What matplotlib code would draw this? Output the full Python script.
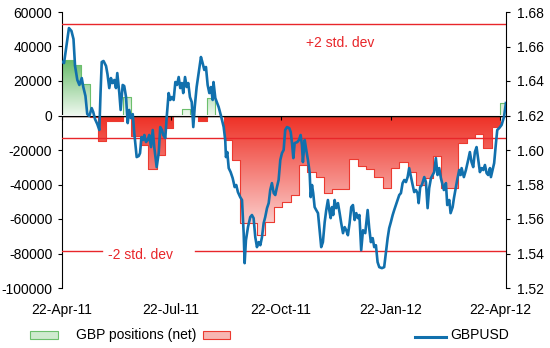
import numpy as np
import pandas as pd
import matplotlib
matplotlib.use('Agg')
import matplotlib.pyplot as plt
import matplotlib.dates as mdates
from matplotlib.colors import LinearSegmentedColormap
from matplotlib.patches import Rectangle
from matplotlib.lines import Line2D
from matplotlib.ticker import FormatStrFormatter

plt.rcParams['font.family'] = ['Liberation Sans', 'DejaVu Sans']
plt.rcParams['axes.unicode_minus'] = False
plt.rcParams['font.size'] = 10

start = pd.Timestamp('2011-04-22')
end = pd.Timestamp('2012-04-27')

# weekly net GBP positions (contracts)
pos_dates = [start] + list(pd.date_range('2011-05-01', periods=52, freq='7D'))
pos = [32000, 29000, 18000, -1000, -15000, -3000, -3000, 11000, -12000, -17000,
       -31000, -23000, -7000, 500, 4000, 300, -3000, 10000, 500, -14000,
       -26000, -62500, -62500, -69000, -61500, -53000, -50000, -46000, -28700, -32600,
       -35800, -45000, -42600, -42600, -25400, -29000, -31000, -35500, -41800, -30600,
       -27000, -32600, -40300, -36000, -23500, -42000, -42000, -16000, -13000, -11000,
       -19000, -6500, 7000]

# mean and std dev of positions
pos_mean = -13000
pos_std = 32900

# GBPUSD, days after 22-Apr-11
fx_days = [0.0, 1.7, 3.8, 5.8, 7.9, 9.6, 10.9, 12.8, 14.5, 16.5, 17.8, 19.6, 21.1, 22.8, 24.8,
           26.1, 27.6, 29.5, 31.2, 32.2, 33.2, 34.7, 36.8, 38.0, 39.5, 40.9, 42.2, 43.7, 45.1,
           46.2, 47.9, 49.0, 50.7, 52.0, 53.5, 54.9, 56.2, 57.6, 59.1, 60.4, 62.4, 64.1, 65.2,
           66.4, 67.7, 68.8, 70.2, 71.6, 72.9, 74.4, 75.8, 77.1, 79.1, 80.8, 82.1, 83.5, 84.6,
           86.3, 87.5, 89.1, 90.5, 91.9, 93.3, 94.7, 96.1, 97.5, 98.8, 100.2, 101.3, 102.8,
           104.2, 105.5, 106.9, 108.4, 109.7, 110.9, 112.5, 114.2, 116.1, 117.5, 118.9, 120.3,
           121.7, 123.1, 124.5, 125.9, 126.6, 128.1, 130.9, 133.1, 135.1, 136.4, 137.0, 138.1,
           139.3, 140.9, 142.6, 144.3, 145.6, 147.0, 148.9, 150.4, 151.8, 152.6, 153.7, 155.4,
           157.3, 158.7, 160.1, 161.5, 162.9, 164.3, 165.7, 167.1, 168.5, 169.8, 171.3, 172.7,
           174.0, 175.4, 176.9, 178.2, 179.6, 181.0, 182.4, 183.8, 185.2, 186.5, 188.0, 189.9,
           191.1, 192.2, 193.3, 194.4, 196.6, 198.0, 199.4, 200.5, 201.3, 202.8, 204.1, 205.5,
           206.9, 207.8, 208.9, 209.9, 211.1, 212.4, 213.9, 215.3, 216.6, 218.0, 219.5, 220.8,
           222.2, 223.3, 224.5, 225.6, 226.6, 227.8, 229.1, 230.6, 232.0, 233.3, 234.8, 236.2,
           237.5, 238.9, 240.3, 241.7, 243.1, 244.5, 245.9, 247.3, 248.5, 250.0, 251.5, 253.4,
           255.4, 256.7, 258.1, 259.6, 260.9, 262.3, 263.7, 265.1, 267.3, 269.2, 270.7, 272.1,
           273.4, 274.8, 276.3, 277.6, 279.0, 280.4, 281.8, 283.2, 284.6, 286.0, 287.4, 288.8,
           290.1, 291.6, 293.0, 294.3, 295.7, 297.1, 298.0, 299.3, 300.7, 302.7, 304.1, 305.5,
           306.8, 308.3, 309.7, 311.0, 312.4, 313.8, 315.2, 316.6, 318.0, 319.1, 320.8, 321.9,
           323.6, 324.7, 326.4, 327.5, 329.1, 330.2, 331.9, 333.1, 333.9, 335.8, 337.5, 339.4,
           340.8, 342.2, 343.6, 345.0, 346.4, 347.8, 349.2, 350.6, 352.0, 353.4, 354.8, 356.1,
           357.6, 358.4, 359.8, 361.1, 362.6, 363.7, 365.3, 367.3, 369.3, 370.9]
fx = [1.6512, 1.6504, 1.6609, 1.6707, 1.6690, 1.6643, 1.6487, 1.6406, 1.6377, 1.6417, 1.6365,
      1.6313, 1.6208, 1.6197, 1.6243, 1.6220, 1.6179, 1.6150, 1.6116, 1.6330, 1.6510, 1.6516,
      1.6487, 1.6440, 1.6359, 1.6417, 1.6388, 1.6406, 1.6359, 1.6446, 1.6330, 1.6232, 1.6377,
      1.6371, 1.6307, 1.6156, 1.6232, 1.6185, 1.6208, 1.6098, 1.5959, 1.5965, 1.5982, 1.6075,
      1.6058, 1.6087, 1.6046, 1.6058, 1.6087, 1.6017, 1.6116, 1.6017, 1.5901, 1.5982, 1.6133,
      1.6116, 1.6087, 1.6069, 1.6191, 1.6330, 1.6290, 1.6307, 1.6290, 1.6394, 1.6377, 1.6423,
      1.6359, 1.6388, 1.6330, 1.6423, 1.6365, 1.6388, 1.6307, 1.6278, 1.6133, 1.6249, 1.6365,
      1.6446, 1.6539, 1.6504, 1.6464, 1.6481, 1.6377, 1.6330, 1.6365, 1.6290, 1.6394, 1.6301,
      1.6249, 1.6191, 1.6133, 1.6058, 1.5959, 1.5988, 1.5895, 1.5872, 1.5837, 1.5785, 1.5797,
      1.5756, 1.5727, 1.5710, 1.5518, 1.5344, 1.5477, 1.5553, 1.5611, 1.5623, 1.5605, 1.5495,
      1.5437, 1.5466, 1.5448, 1.5495, 1.5576, 1.5611, 1.5663, 1.5692, 1.5768, 1.5808, 1.5750,
      1.5739, 1.5785, 1.5826, 1.5942, 1.5982, 1.6000, 1.6116, 1.6133, 1.6127, 1.6104, 1.6040,
      1.5953, 1.6040, 1.6046, 1.6058, 1.6087, 1.6029, 1.5930, 1.6058, 1.6000, 1.5942, 1.5872,
      1.5727, 1.5797, 1.5750, 1.5669, 1.5652, 1.5634, 1.5535, 1.5437, 1.5466, 1.5582, 1.5652,
      1.5710, 1.5652, 1.5605, 1.5669, 1.5623, 1.5710, 1.5663, 1.5692, 1.5634, 1.5576, 1.5518,
      1.5553, 1.5535, 1.5506, 1.5576, 1.5669, 1.5681, 1.5594, 1.5634, 1.5605, 1.5623, 1.5419,
      1.5535, 1.5518, 1.5652, 1.5547, 1.5466, 1.5489, 1.5437, 1.5448, 1.5350, 1.5321, 1.5315,
      1.5321, 1.5408, 1.5489, 1.5547, 1.5582, 1.5623, 1.5652, 1.5681, 1.5710, 1.5739, 1.5750,
      1.5808, 1.5826, 1.5814, 1.5843, 1.5895, 1.5843, 1.5797, 1.5756, 1.5768, 1.5750, 1.5692,
      1.5785, 1.5797, 1.5843, 1.5814, 1.5663, 1.5779, 1.5837, 1.5855, 1.5872, 1.5953, 1.5855,
      1.5895, 1.5837, 1.5797, 1.5768, 1.5808, 1.5681, 1.5710, 1.5634, 1.5669, 1.5721, 1.5785,
      1.5826, 1.5884, 1.5855, 1.5895, 1.5843, 1.5884, 1.5942, 1.5988, 1.5930, 1.5901, 1.5988,
      1.6017, 1.5942, 1.5872, 1.5895, 1.5884, 1.5913, 1.5866, 1.5855, 1.5895, 1.5843, 1.5884,
      1.5924, 1.6040, 1.6116, 1.6127, 1.6145, 1.6191, 1.6272]

tick_dates = pd.to_datetime(['2011-04-22', '2011-07-22', '2011-10-22', '2012-01-22', '2012-04-22'])

RED = '#e8262a'
BLUE = '#1170ad'


def gradient_fill(ax, x, y, c_top, c_bot, y_top, y_bot, edge):
    coll = ax.fill_between(x, y, 0, step='post', facecolor='none', edgecolor=edge,
                           linewidth=0.8, zorder=2)
    path = coll.get_paths()[0]
    cmap = LinearSegmentedColormap.from_list('g', [c_top, c_bot])
    grad = np.linspace(0, 1, 256).reshape(-1, 1)
    im = ax.imshow(grad, cmap=cmap, aspect='auto', origin='upper',
                   extent=[x[0], x[-1], y_bot, y_top], zorder=1, interpolation='bilinear')
    im.set_clip_path(path, transform=ax.transData)


fig = plt.figure(figsize=(5.5, 3.48), dpi=100)
ax = fig.add_axes([62 / 550, 1 - 288 / 348, 444 / 550, 276 / 348])
ax2 = ax.twinx()

xs = mdates.date2num(pos_dates + [end])
ys = np.array(pos + [pos[-1]], dtype=float)
gradient_fill(ax, xs, np.clip(ys, 0, None), '#62b965', '#eef8ee', 33000, 0, '#6cbf6c')
gradient_fill(ax, xs, np.clip(ys, None, 0), '#ee2f24', '#fde4e3', 0, -72000, '#ec3a30')

# std dev bands
ax.axhline(pos_mean + 2 * pos_std, color=RED, lw=1, zorder=3)
ax.axhline(pos_mean, color=RED, lw=1, zorder=3)
low = pos_mean - 2 * pos_std
ax.axhline(low, xmax=(102 - 62) / 444, color=RED, lw=1, zorder=3)
ax.axhline(low, xmin=(195 - 62) / 444, color=RED, lw=1, zorder=3)
ax.text(0.549, 0.874, '+2 std. dev', color=RED, transform=ax.transAxes, va='baseline')
ax.text(0.1036, 0.105, '-2 std. dev', color=RED, transform=ax.transAxes, va='baseline')

ax.axhline(0, color='black', lw=1, zorder=4)

ax.set_xlim(start, end)
ax.set_ylim(-100000, 60000)
ax.set_yticks(np.arange(-100000, 60001, 20000))
ax.set_xticks(mdates.date2num(tick_dates))
ax.xaxis.set_major_formatter(mdates.DateFormatter('%d-%b-%y'))
ax.tick_params(axis='x', length=0, pad=11)
ax.tick_params(axis='y', direction='out', length=3, width=0.8, pad=4)
for s in ['top', 'bottom', 'right']:
    ax.spines[s].set_visible(False)

# axis line crossing at zero with tick marks
sec = ax.secondary_xaxis(100000 / 160000)
sec.set_alignment('bottom')
sec.set_ticks(mdates.date2num(tick_dates))
sec.tick_params(direction='out', length=3, width=0.8, labelbottom=False, labeltop=False)
sec.set_zorder(4)

fx_dates = start + pd.to_timedelta(fx_days, unit='D')
ax2.plot(fx_dates, fx, color=BLUE, lw=1.9, zorder=5, solid_joinstyle='round')
ax2.set_ylim(1.52, 1.68)
ax2.set_yticks(np.arange(1.52, 1.6801, 0.02))
ax2.yaxis.set_major_formatter(FormatStrFormatter('%.2f'))
ax2.tick_params(axis='y', direction='out', length=3, width=0.8, pad=5)
for s in ['top', 'bottom', 'left']:
    ax2.spines[s].set_visible(False)
ax2.set_xlim(start, end)

# legend row
fig.patches.append(Rectangle((30 / 550, 1 - 339 / 348), 28 / 550, 8 / 348, transform=fig.transFigure,
                             facecolor='#cfeacf', edgecolor='#6cbf6c', lw=0.8))
fig.text(76 / 550, 1 - 335 / 348, 'GBP positions (net)', va='center')
fig.patches.append(Rectangle((203 / 550, 1 - 339 / 348), 27 / 550, 8 / 348, transform=fig.transFigure,
                             facecolor='#f7b6b2', edgecolor='#ec3a30', lw=0.8))
fig.lines.append(Line2D([415 / 550, 446 / 550], [1 - 336.5 / 348] * 2, transform=fig.transFigure,
                        color=BLUE, lw=2.2))
fig.text(450 / 550, 1 - 335 / 348, 'GBPUSD', va='center')

fig.savefig('out.png', dpi=100)
